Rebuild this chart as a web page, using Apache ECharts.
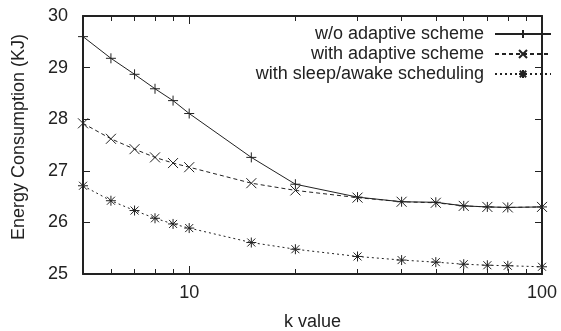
<!DOCTYPE html>
<html>
<head>
<meta charset="utf-8">
<script src="https://cdn.jsdelivr.net/npm/echarts@6/dist/echarts.min.js"></script>
<style>
  html, body { margin: 0; padding: 0; background: #fff; }
  #echarts-container { width: 561px; height: 331px; }
</style>
</head>
<body>
<div id="echarts-container"></div>
<script>
// k values (x, log scale)
const kValues = [5, 6, 7, 8, 9, 10, 15, 20, 30, 40, 50, 60, 70, 80, 100];

// energy consumption (KJ)
const withoutAdaptive = [29.60, 29.18, 28.87, 28.59, 28.36, 28.11, 27.26, 26.74, 26.49, 26.40, 26.39, 26.32, 26.30, 26.29, 26.30];
const withAdaptive = [27.92, 27.62, 27.42, 27.26, 27.15, 27.07, 26.76, 26.62, 26.48, 26.40, 26.38, 26.32, 26.30, 26.29, 26.30];
const withSleepAwake = [26.71, 26.42, 26.23, 26.08, 25.97, 25.89, 25.61, 25.48, 25.34, 25.27, 25.23, 25.19, 25.17, 25.16, 25.14];

const seriesNames = ["w/o adaptive scheme", "with adaptive scheme", "with sleep/awake scheduling"];

// axis ticks
const xMajorTicks = [10, 100];
const xMinorTicks = [6, 7, 8, 9, 20, 30, 40, 50, 60, 70, 80, 90];
const yTicks = [25, 26, 27, 28, 29, 30];

const FONT = "'Liberation Sans', Arial, Helvetica, sans-serif";
const INK = "#222";

const PLUS = "path://M0,-1L0,1M-1,0L1,0";
const CROSS = "path://M-1,-1L1,1M-1,1L1,-1";
const STAR = "path://M0,-1L0,1M-1,0L1,0M-0.8,-0.8L0.8,0.8M-0.8,0.8L0.8,-0.8";

const chartDom = document.getElementById("echarts-container");
const chart = echarts.init(chartDom, null, { renderer: "canvas" });

const toPairs = (ys) => kValues.map((k, i) => [k, ys[i]]);

const makeSeries = (name, ys, symbol, dash) => ({
  name: name,
  type: "line",
  data: toPairs(ys),
  symbol: symbol,
  symbolSize: 10,
  showSymbol: true,
  animation: false,
  lineStyle: { color: INK, width: 1, type: dash },
  itemStyle: { color: "none", borderColor: INK, borderWidth: 1 },
});

const xAxisBase = {
  type: "log",
  logBase: 10,
  min: 5,
  max: 100,
  gridIndex: 0,
  splitLine: { show: false },
  minorTick: { show: false },
};

const option = {
  animation: false,
  backgroundColor: "#fff",
  textStyle: { fontFamily: FONT, color: INK },
  grid: { left: 83, right: 19, top: 16, bottom: 57, containLabel: false, outerBoundsMode: "none" },
  legend: {
    orient: "vertical",
    right: 9,
    top: 25,
    padding: 0,
    align: "right",
    itemWidth: 56,
    itemHeight: 10,
    itemGap: 2,
    data: seriesNames,
    textStyle: { fontFamily: FONT, fontSize: 18, color: INK, lineHeight: 18, padding: [0, 6, 0, 0] },
  },
  xAxis: [
    Object.assign({}, xAxisBase, {
      position: "bottom",
      name: "k value",
      nameLocation: "middle",
      nameGap: 39,
      nameTextStyle: { fontFamily: FONT, fontSize: 18, color: INK },
      axisLine: { show: true, lineStyle: { color: INK, width: 2 } },
      axisTick: { show: true, inside: true, length: 8, customValues: xMajorTicks, lineStyle: { color: INK, width: 1 } },
      axisLabel: { show: true, margin: 10, fontFamily: FONT, fontSize: 18, color: INK, customValues: xMajorTicks },
    }),
    Object.assign({}, xAxisBase, {
      position: "bottom",
      axisLine: { show: false },
      axisTick: { show: true, inside: true, length: 5, customValues: xMinorTicks, lineStyle: { color: INK, width: 1 } },
      axisLabel: { show: false },
    }),
    Object.assign({}, xAxisBase, {
      position: "top",
      axisLine: { show: true, lineStyle: { color: INK, width: 2 } },
      axisTick: { show: true, inside: true, length: 8, customValues: xMajorTicks, lineStyle: { color: INK, width: 1 } },
      axisLabel: { show: false },
    }),
    Object.assign({}, xAxisBase, {
      position: "top",
      axisLine: { show: false },
      axisTick: { show: true, inside: true, length: 5, customValues: xMinorTicks, lineStyle: { color: INK, width: 1 } },
      axisLabel: { show: false },
    }),
  ],
  yAxis: [
    {
      type: "value",
      position: "left",
      min: yTicks[0],
      max: yTicks[yTicks.length - 1],
      interval: 1,
      name: "Energy Consumption (KJ)",
      nameLocation: "middle",
      nameGap: 55,
      nameTextStyle: { fontFamily: FONT, fontSize: 18, color: INK, padding: [0, 0, 0, 16] },
      splitLine: { show: false },
      axisLine: { show: true, lineStyle: { color: INK, width: 2 } },
      axisTick: { show: true, inside: true, length: 7, lineStyle: { color: INK, width: 1 } },
      axisLabel: { show: true, margin: 15, fontFamily: FONT, fontSize: 18, color: INK },
    },
    {
      type: "value",
      position: "right",
      min: yTicks[0],
      max: yTicks[yTicks.length - 1],
      interval: 1,
      splitLine: { show: false },
      axisLine: { show: true, lineStyle: { color: INK, width: 2 } },
      axisTick: { show: true, inside: true, length: 7, lineStyle: { color: INK, width: 1 } },
      axisLabel: { show: false },
    },
  ],
  series: [
    makeSeries(seriesNames[0], withoutAdaptive, PLUS, "solid"),
    makeSeries(seriesNames[1], withAdaptive, CROSS, [4, 3]),
    makeSeries(seriesNames[2], withSleepAwake, STAR, [2, 3]),
  ],
};

chart.setOption(option);
</script>
</body>
</html>
